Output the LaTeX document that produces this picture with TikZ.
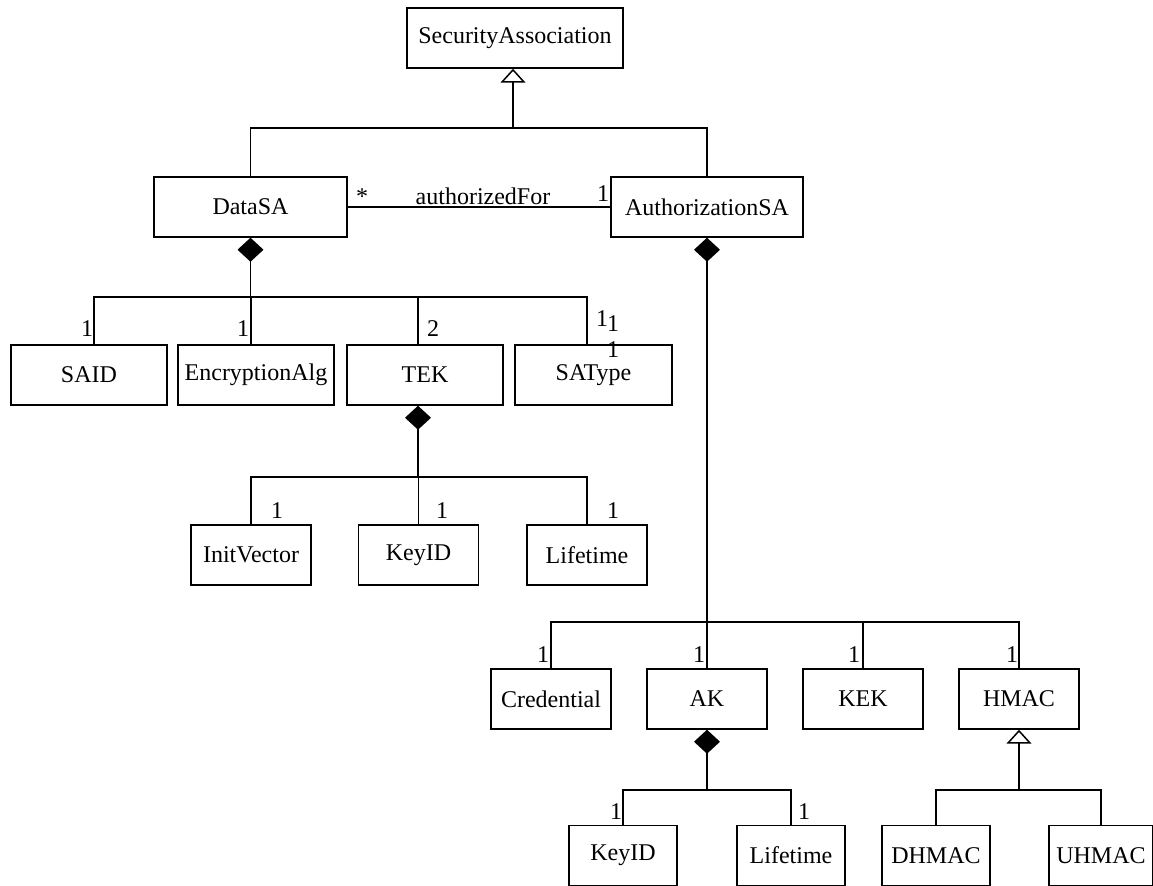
\documentclass[tikz,border=0pt]{standalone}
\usepackage{fontspec}
\setmainfont{Liberation Serif}
\usepackage{tikz}
\usetikzlibrary{positioning,arrows.meta}

\begin{document}
\begin{tikzpicture}[x=0.5pt,y=-0.5pt,line width=0.75pt,
    font=\fontsize{12}{14}\selectfont,
    cls/.style={draw, minimum width=#1, minimum height=30pt, inner sep=0pt},
    mult/.style={anchor=base, inner sep=0pt},
    comp/.style={{Diamond[width=13pt,length=12pt]}-},
    gen/.style={-{Triangle[open,width=12.5pt,length=7pt]}}]
  \useasboundingbox (0,0) rectangle (1153,886);

  % classes
  \node[cls=108pt] (sa) at (515,38) {SecurityAssociation};
  \node[cls=96.5pt] (datasa) at (250.5,207) {DataSA};
  \node[cls=96pt] (authsa) at (707,207) {AuthorizationSA};

  \node[cls=78pt] (said) at (89,375) {SAID};
  \node[cls=78pt] (encalg) at (256,375) {EncryptionAlg};
  \node[cls=78pt] (tek) at (425,375) {TEK};
  \node[cls=78.5pt] (satype) at (593.5,375) {\raisebox{-3pt}{SAType}};

  \node[cls=60pt] (initvec) at (251,555) {InitVector};
  \node[cls=60pt] (tekkeyid) at (418.5,555) {KeyID};
  \node[cls=60pt] (teklife) at (587,555) {Lifetime};

  \node[cls=60pt] (cred) at (551,699) {Credential};
  \node[cls=60pt] (ak) at (707,699) {AK};
  \node[cls=60pt] (kek) at (863,699) {KEK};
  \node[cls=60pt] (hmac) at (1019,699) {HMAC};

  \node[cls=54pt] (akkeyid) at (623,855.5) {KeyID};
  \node[cls=54pt] (aklife) at (791,855.5) {Lifetime};
  \node[cls=54pt] (dhmac) at (936,855.5) {DHMAC};
  \node[cls=52pt] (uhmac) at (1101,855.5) {UHMAC};

  % junctions
  \coordinate (gbus) at (513,128);
  \coordinate (dbus) at (250.5,297);
  \coordinate (tbus) at (418,477);
  \coordinate (abus) at (707,622);
  \coordinate (kbus) at (707,790);
  \coordinate (hbus) at (1019,790);

  % generalization
  \draw (datasa.north) |- (gbus) -| (authsa.north);
  \draw[gen] (gbus) -- (gbus |- sa.south);
  \draw[gen] (hbus) -- (hmac.south);
  \draw (dhmac.north) |- (hbus) -| (uhmac.north);

  % association
  \draw (datasa) -- (authsa);
  \node[mult] (mstar) at (362,205) {*};
  \node[mult] (assoc) at (483,205) {authorizedFor};
  \node[mult] (mone) at (603,202) {1};

  % composition
  \draw[comp] (datasa.south) -- (dbus);
  \draw ([xshift=2.5pt]said.north) |- (dbus) -| ([xshift=-3.25pt]satype.north);
  \draw ([xshift=-2.5pt]encalg.north) |- (dbus);
  \draw ([xshift=-3.5pt]tek.north) |- (dbus);

  \draw[comp] ([xshift=-3.5pt]tek.south) -- (tbus);
  \draw (initvec.north) |- (tbus) -| (teklife.north);
  \draw (tekkeyid.north) |- (tbus);

  \draw[comp] (authsa.south) -- (abus);
  \draw (cred.north) |- (abus) -| (hmac.north);
  \draw (ak.north) -- (abus);
  \draw (kek.north) |- (abus);

  \draw[comp] (ak.south) -- (kbus);
  \draw (akkeyid.north) |- (kbus) -| (aklife.north);

  % multiplicities
  \node[mult] (m1) at (87,337) {1};
  \node[mult] (m2) at (243,337) {1};
  \node[mult] (m3) at (433,337) {2};
  \node[mult] (m4) at (602,327) {1};
  \node[mult] (m5) at (613,332) {1};
  \node[mult] (m6) at (613,358) {1};

  \node[mult] (m7) at (277,519) {1};
  \node[mult] (m8) at (442,519) {1};
  \node[mult] (m9) at (613,519) {1};

  \node[mult] (m10) at (543,663) {1};
  \node[mult] (m11) at (699,663) {1};
  \node[mult] (m12) at (854,663) {1};
  \node[mult] (m13) at (1012,663) {1};

  \node[mult] (m14) at (616,820) {1};
  \node[mult] (m15) at (804,820) {1};
\end{tikzpicture}
\end{document}
